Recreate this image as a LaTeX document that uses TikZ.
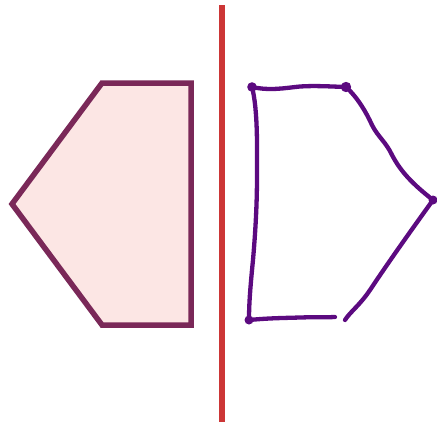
\documentclass[tikz,border=0pt]{standalone}
\usetikzlibrary{calc}
\definecolor{shapeedge}{HTML}{7A2858}
\definecolor{shapefill}{HTML}{FCE6E4}
\definecolor{mirror}{HTML}{CC3636}
\definecolor{pen}{HTML}{5C0A80}
\tikzset{
  orig/.style={draw=shapeedge, fill=shapefill, line width=5.5pt, line join=miter},
  mirrorline/.style={draw=mirror, line width=6pt},
  sketch/.style={draw=pen, line width=4.3pt, line cap=round, line join=round},
  dot/.style={fill=pen}
}
\begin{document}
\begin{tikzpicture}[x=1pt,y=-1pt]
\useasboundingbox (0,0) rectangle (437,431);
% original pentagon
\coordinate (a1) at (102,83);
\coordinate (a2) at (191,83);
\coordinate (a3) at (191,325);
\coordinate (a4) at (102,325);
\coordinate (a5) at (12,204);
\path[orig] (a1) -- (a2) -- (a3) -- (a4) -- (a5) -- cycle;
% mirror line
\coordinate (m1) at (222,5);
\coordinate (m2) at (222,422);
\path[mirrorline] (m1) -- (m2);
% hand drawn reflection
\coordinate (b1) at (252,87);
\coordinate (b2) at (346,87);
\coordinate (b3) at (433,200);
\coordinate (b4) at (345,320);
\coordinate (b5) at (249,320);
\coordinate (b6) at (335,317);
\path[sketch] (b1) .. controls (270,91) and (285,88) .. (300,86.5) .. controls (315,85.5) and (330,86.5) .. (b2);
\path[sketch] (b2) .. controls (358,98) and (366,112) .. (372,125)
  .. controls (378,137) and (386,142) .. (392,155)
  .. controls (400,170) and (410,182) .. (b3);
\path[sketch] (b3) .. controls (410,232) and (390,260) .. (370,290) .. controls (360,305) and (350,312) .. (b4);
\path[sketch] (b1) .. controls (258,110) and (257,150) .. (257,175) .. controls (257,200) and (256,225) .. (253,260) .. controls (250,290) and (249,305) .. (b5);
\path[sketch] (b5) .. controls (270,318) and (285,318) .. (300,317.5) .. controls (315,317) and (325,317.5) .. (b6);
\fill[dot] (b1) circle (4.8);
\fill[dot] (b2) circle (5.2);
\fill[dot] (b3) circle (4.5);
\fill[dot] (b5) circle (4.5);
\end{tikzpicture}
\end{document}
